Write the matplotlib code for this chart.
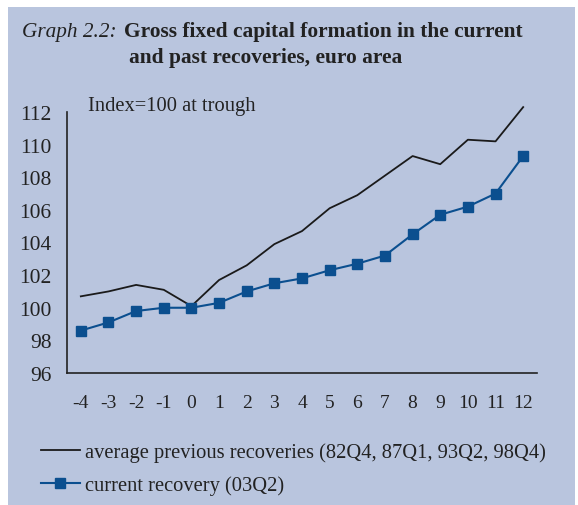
import matplotlib
matplotlib.use("Agg")
import matplotlib.pyplot as plt
from matplotlib.patches import Rectangle

# quarters relative to trough
quarters = list(range(-4, 13))
# average previous recoveries (82Q4, 87Q1, 93Q2, 98Q4)
avg_previous = [100.7, 101.0, 101.4, 101.1, 100.1, 101.7, 102.6, 103.9, 104.7,
                106.1, 106.9, 108.1, 109.3, 108.8, 110.3, 110.2, 112.3]
# current recovery (03Q2)
current = [98.6, 99.1, 99.8, 100.0, 100.0, 100.3, 101.0, 101.5, 101.8,
           102.3, 102.7, 103.2, 104.5, 105.7, 106.2, 107.0, 109.3]
y_ticks = [96, 98, 100, 102, 104, 106, 108, 110, 112]

bg = "#B9C5DE"
blue = "#0B4F8F"
plt.rcParams['font.family'] = ['Liberation Serif', 'DejaVu Serif']
plt.rcParams['axes.unicode_minus'] = False

W, H = 578, 506
fig = plt.figure(figsize=(W / 100, H / 100), dpi=100)
fig.patch.set_facecolor("white")
fig.add_artist(Rectangle((8 / W, 0), (575 - 8) / W, 1 - 8 / H,
                         transform=fig.transFigure, facecolor=bg,
                         edgecolor="none", zorder=-10))

# title: italic label + bold text
fig.text(22 / W, 1 - 37 / H, "Graph 2.2:", fontsize=15.3, style="italic",
         color="#222222", va="baseline")
fig.text(124 / W, 1 - 37 / H, "Gross fixed capital formation in the current",
         fontsize=15.4, fontweight="bold", color="#222222", va="baseline")
fig.text(129 / W, 1 - 63 / H, "and past recoveries, euro area",
         fontsize=15.4, fontweight="bold", color="#222222", va="baseline")

ax = fig.add_axes([67 / W, 1 - 374 / H, (537 - 67) / W, (374 - 113) / H])
ax.set_zorder(1)
ax.patch.set_alpha(0)

ax.plot(quarters, avg_previous, color="#1a1a1a", linewidth=1.3,
        label="average previous recoveries (82Q4, 87Q1, 93Q2, 98Q4)", clip_on=False)
ax.plot(quarters, current, color=blue, linewidth=1.5, marker="s",
        markersize=6.5, label="current recovery (03Q2)", clip_on=False)

ax.set_xlim(-4.5, 12.5)
ax.set_ylim(96, 112)
ax.set_xticks(quarters)
ax.set_yticks(y_ticks)
ax.tick_params(axis="y", length=0, pad=11, labelsize=15.5, colors="#222222")
ax.tick_params(axis="x", length=0, pad=15, labelsize=14, colors="#222222")
for s in ["top", "right"]:
    ax.spines[s].set_visible(False)
for s in ["left", "bottom"]:
    ax.spines[s].set_color("#222222")
    ax.spines[s].set_linewidth(1.2)

fig.text(88 / W, 1 - 106 / H, "Index=100 at trough", fontsize=14.8,
         color="#222222", va="center")

fig.legend(loc="upper left", bbox_to_anchor=(22 / W, 1 - 425 / H),
           frameon=False, fontsize=14.8, handlelength=1.9, handletextpad=0.28,
           labelspacing=0.63, labelcolor="#222222")

fig.savefig("out.png", dpi=100)
